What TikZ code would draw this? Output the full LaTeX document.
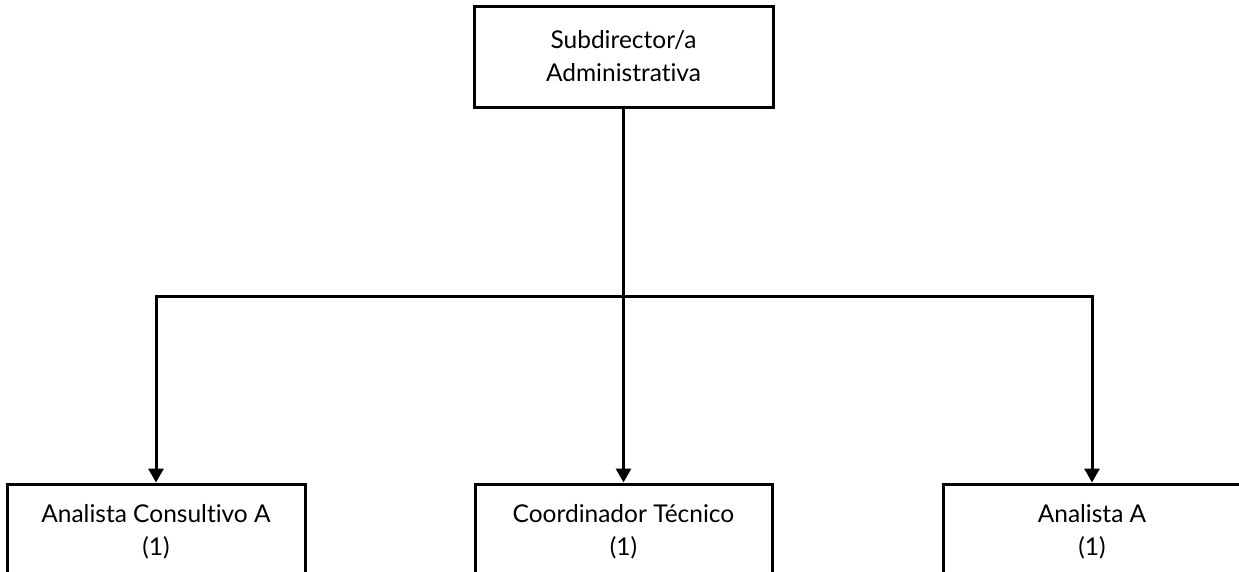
\documentclass[tikz,border=0pt]{standalone}
\usepackage{fontspec}
\setmainfont{Lato}[Ligatures={NoCommon,NoRare}]
\usetikzlibrary{arrows.meta}
\begin{document}
\begin{tikzpicture}[x=1pt,y=1pt,
  box/.style={draw=black,line width=3pt,fill=white,align=center,font=\fontsize{24.5}{33}\selectfont,inner sep=0pt},
  conn/.style={draw=black,line width=3pt},
  tip/.style={-{Triangle[length=14pt,width=15pt]}}]
\useasboundingbox (0,0) rectangle (1239,-571);
\clip (0,0) rectangle (1239,-571);
\node[box,minimum width=299pt,minimum height=101pt] (top) at (623.5,-56.5) {Subdirector/a\\Administrativa};
\node[box,minimum width=298pt,minimum height=96pt] (left) at (156,-532) {Analista Consultivo A\\(1)};
\node[box,minimum width=297pt,minimum height=96pt] (mid) at (623.5,-532) {Coordinador Técnico\\(1)};
\node[box,minimum width=298pt,minimum height=96pt] (right) at (1092,-532) {Analista A\\(1)};
\coordinate (j) at (623.5,-296);
\draw[conn] (top.south) -- (j);
\draw[conn,tip] (j) -- (mid.north);
\draw[conn,tip] (j) -| (left.north);
\draw[conn,tip] (j) -| (right.north);
\end{tikzpicture}
\end{document}
